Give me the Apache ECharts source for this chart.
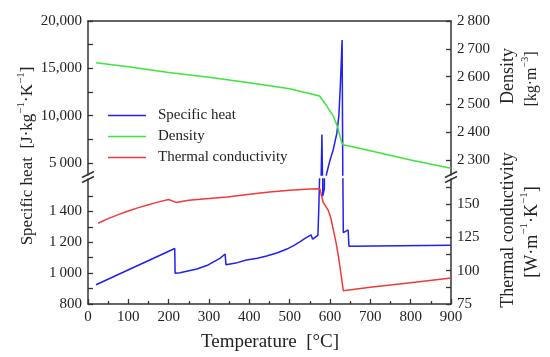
<!DOCTYPE html>
<html>
<head>
<meta charset="utf-8">
<script src="https://cdn.jsdelivr.net/npm/echarts@6/dist/echarts.min.js"></script>
<style>html,body{margin:0;padding:0;background:#fff}#c{width:550px;height:357px}</style>
</head>
<body>
<div id="c"></div>
<script>
// ---- data ----
var specificHeatT =   [20, 215, 216, 228, 270, 298, 327, 340, 342, 370, 393, 420, 443, 470, 493, 510, 526, 540, 553, 557, 570, 572, 575, 578, 580, 582, 586, 592, 600, 608, 617, 622, 626, 630, 632, 633, 645, 647, 900];
var specificHeatVal = [925, 1160, 1000, 1003, 1027, 1053, 1096, 1124, 1055, 1068, 1085, 1097, 1111, 1132, 1156, 1178, 1204, 1228, 1248, 1220, 1245, 1400, 1700, 3500, 8000, 1500, 1550, 3950, 5300, 6400, 8150, 10000, 13500, 18000, 1600, 1262, 1280, 1175, 1180];
var densityT =   [20, 100, 200, 300, 400, 500, 574, 592, 608, 618, 629, 633, 700, 800, 900];
var densityVal = [2650, 2635, 2615, 2598, 2578, 2556, 2530, 2494, 2458, 2422, 2363, 2355, 2333, 2300, 2270];
var conductivityT =   [25, 50, 75, 100, 125, 150, 175, 200, 218, 250, 300, 345, 400, 450, 500, 550, 575, 583, 590, 596, 602, 608, 615, 621, 627, 633, 700, 800, 900];
var conductivityVal = [135.6, 139, 142, 144.8, 147.3, 149.5, 151.6, 153.4, 151.2, 152.8, 154.2, 155.3, 157.4, 159, 160.3, 161.2, 161.4, 151.3, 148, 145, 139.5, 131, 121, 110.5, 98, 85, 87.5, 91, 94.5];
var xTicks = [0, 100, 200, 300, 400, 500, 600, 700, 800, 900];
var heatUpperLabels = [5000, 10000, 15000, 20000];
var heatLowerLabels = [800, 1000, 1200, 1400];
var densityLabels = [2300, 2400, 2500, 2600, 2700, 2800];
var conductivityLabels = [75, 100, 125, 150];

function pairs(t, v) { return t.map(function (x, i) { return [x, v[i]]; }); }
function spaced(v) { // "1 400" style
  var s = String(v);
  return s.length > 3 ? s.slice(0, s.length - 3) + '\u2009' + s.slice(-3) : s;
}

var FONT = 'Liberation Serif';
var AX = '#333';
var BLUE = '#2020f0', GREEN = '#3fe23f', RED = '#f03a3a';

var chart = echarts.init(document.getElementById('c'), null, { renderer: 'canvas' });

var labelStyle = { fontFamily: FONT, fontSize: 15, color: '#222' };

var option = {
  animation: false,
  backgroundColor: '#fff',
  grid: [
    { left: 88, right: 99, top: 21, height: 154 },
    { left: 88, right: 99, top: 179, height: 125 }
  ],
  xAxis: [
    { gridIndex: 0, type: 'value', min: 0, max: 900, position: 'top',
      axisLine: { show: true, lineStyle: { color: AX, width: 1.5 } },
      axisTick: { show: false }, axisLabel: { show: false }, splitLine: { show: false } },
    { gridIndex: 1, type: 'value', min: 0, max: 900, interval: 100, position: 'bottom',
      axisLine: { show: true, lineStyle: { color: AX, width: 1.5 } },
      axisTick: { show: true, inside: true, length: 5, lineStyle: { color: AX, width: 1.3 } },
      minorTick: { show: true, splitNumber: 2, length: 3, lineStyle: { color: AX, width: 1.3 } },
      axisLabel: Object.assign({ margin: 6, customValues: xTicks }, labelStyle),
      splitLine: { show: false } }
  ],
  yAxis: [
    { gridIndex: 0, type: 'value', min: 3733, max: 20000, position: 'left',
      axisLine: { show: true, lineStyle: { color: AX, width: 1.5 } },
      axisTick: { show: true, inside: true, length: 5, customValues: [5000, 7500, 10000, 12500, 15000, 17500, 20000], lineStyle: { color: AX, width: 1.3 } },
      axisLabel: Object.assign({ margin: 6, customValues: heatUpperLabels,
        formatter: function (v) { return v >= 10000 ? String(v).slice(0, 2) + ',' + String(v).slice(2) : spaced(v); } }, labelStyle),
      splitLine: { show: false } },
    { gridIndex: 0, type: 'value', min: 2246, max: 2800, position: 'right',
      axisLine: { show: true, lineStyle: { color: AX, width: 1.5 } },
      axisTick: { show: true, inside: true, length: 5, customValues: densityLabels, lineStyle: { color: AX, width: 1.3 } },
      axisLabel: Object.assign({ margin: 6, customValues: densityLabels, formatter: spaced }, labelStyle),
      splitLine: { show: false } },
    { gridIndex: 1, type: 'value', min: 800, max: 1610, position: 'left',
      axisLine: { show: true, lineStyle: { color: AX, width: 1.5 } },
      axisTick: { show: true, inside: true, length: 5, customValues: [800, 900, 1000, 1100, 1200, 1300, 1400, 1500], lineStyle: { color: AX, width: 1.3 } },
      axisLabel: Object.assign({ margin: 6, customValues: heatLowerLabels, formatter: spaced }, labelStyle),
      splitLine: { show: false } },
    { gridIndex: 1, type: 'value', min: 75, max: 168.75, position: 'right',
      axisLine: { show: true, lineStyle: { color: AX, width: 1.5 } },
      axisTick: { show: true, inside: true, length: 5, customValues: [75, 87.5, 100, 112.5, 125, 137.5, 150, 162.5], lineStyle: { color: AX, width: 1.3 } },
      axisLabel: Object.assign({ margin: 6, customValues: conductivityLabels }, labelStyle),
      splitLine: { show: false } }
  ],
  legend: {
    orient: 'vertical', left: 103, top: 103, itemWidth: 38, itemHeight: 12, itemGap: 6,
    icon: 'path://M0,5 L38,5 L38,6.5 L0,6.5 Z',
    textStyle: { fontFamily: FONT, fontSize: 15, color: '#222', padding: [0, 0, 0, 7] },
    data: ['Specific heat', 'Density', 'Thermal conductivity']
  },
  series: [
    { name: 'Specific heat', type: 'line', xAxisIndex: 0, yAxisIndex: 0, data: pairs(specificHeatT, specificHeatVal),
      symbol: 'none', clip: true, lineStyle: { color: BLUE, width: 1.5 }, itemStyle: { color: BLUE } },
    { name: 'Specific heat', type: 'line', xAxisIndex: 1, yAxisIndex: 2, data: pairs(specificHeatT, specificHeatVal),
      symbol: 'none', clip: true, lineStyle: { color: BLUE, width: 1.5 }, itemStyle: { color: BLUE } },
    { name: 'Density', type: 'line', xAxisIndex: 0, yAxisIndex: 1, data: pairs(densityT, densityVal),
      symbol: 'none', clip: true, lineStyle: { color: GREEN, width: 1.5 }, itemStyle: { color: GREEN } },
    { name: 'Thermal conductivity', type: 'line', xAxisIndex: 1, yAxisIndex: 3, data: pairs(conductivityT, conductivityVal),
      symbol: 'none', clip: true, lineStyle: { color: RED, width: 1.5 }, itemStyle: { color: RED } }
  ],
  graphic: []
};

function breakMarks(x) {
  return [174.5, 179.5].map(function (y) {
    return { type: 'line', shape: { x1: x - 6, y1: y + 3, x2: x + 6, y2: y - 3 }, style: { stroke: AX, lineWidth: 1.5 }, z: 100 };
  });
}
var rich = function (size) {
  return {
    n: { fontFamily: FONT, fontSize: size, fill: '#222', lineHeight: size + 4, verticalAlign: 'bottom' },
    s: { fontFamily: FONT, fontSize: Math.round(size * 0.62), fill: '#222', lineHeight: size + 4, verticalAlign: 'top' }
  };
};
function vtext(x, y, txt, size) {
  return { type: 'text', x: x, y: y, rotation: Math.PI / 2,
    style: { text: txt, rich: rich(size), fontFamily: FONT, fontSize: size, fill: '#222', align: 'center', verticalAlign: 'middle' }, z: 100 };
}
option.graphic = breakMarks(88).concat(breakMarks(451)).concat([
  vtext(26, 156, '{n|Specific heat  [J\u00b7kg}{s|\u22121}{n|\u00b7K}{s|\u22121}{n|]}', 17),
  vtext(506, 76, '{n|Density}', 18),
  vtext(530, 79, '{n|[kg\u00b7m}{s|\u22123}{n|]}', 16),
  vtext(506, 230, '{n|Thermal conductivity}', 18),
  vtext(530, 232, '{n|[W\u00b7m}{s|\u22121}{n|\u00b7K}{s|\u22121}{n|]}', 18),
  { type: 'text', x: 270, y: 342, style: { text: 'Temperature  [\u00b0C]', fontFamily: FONT, fontSize: 19, fill: '#222', align: 'center', verticalAlign: 'middle' } }
]);

chart.setOption(option);
</script>
</body>
</html>
